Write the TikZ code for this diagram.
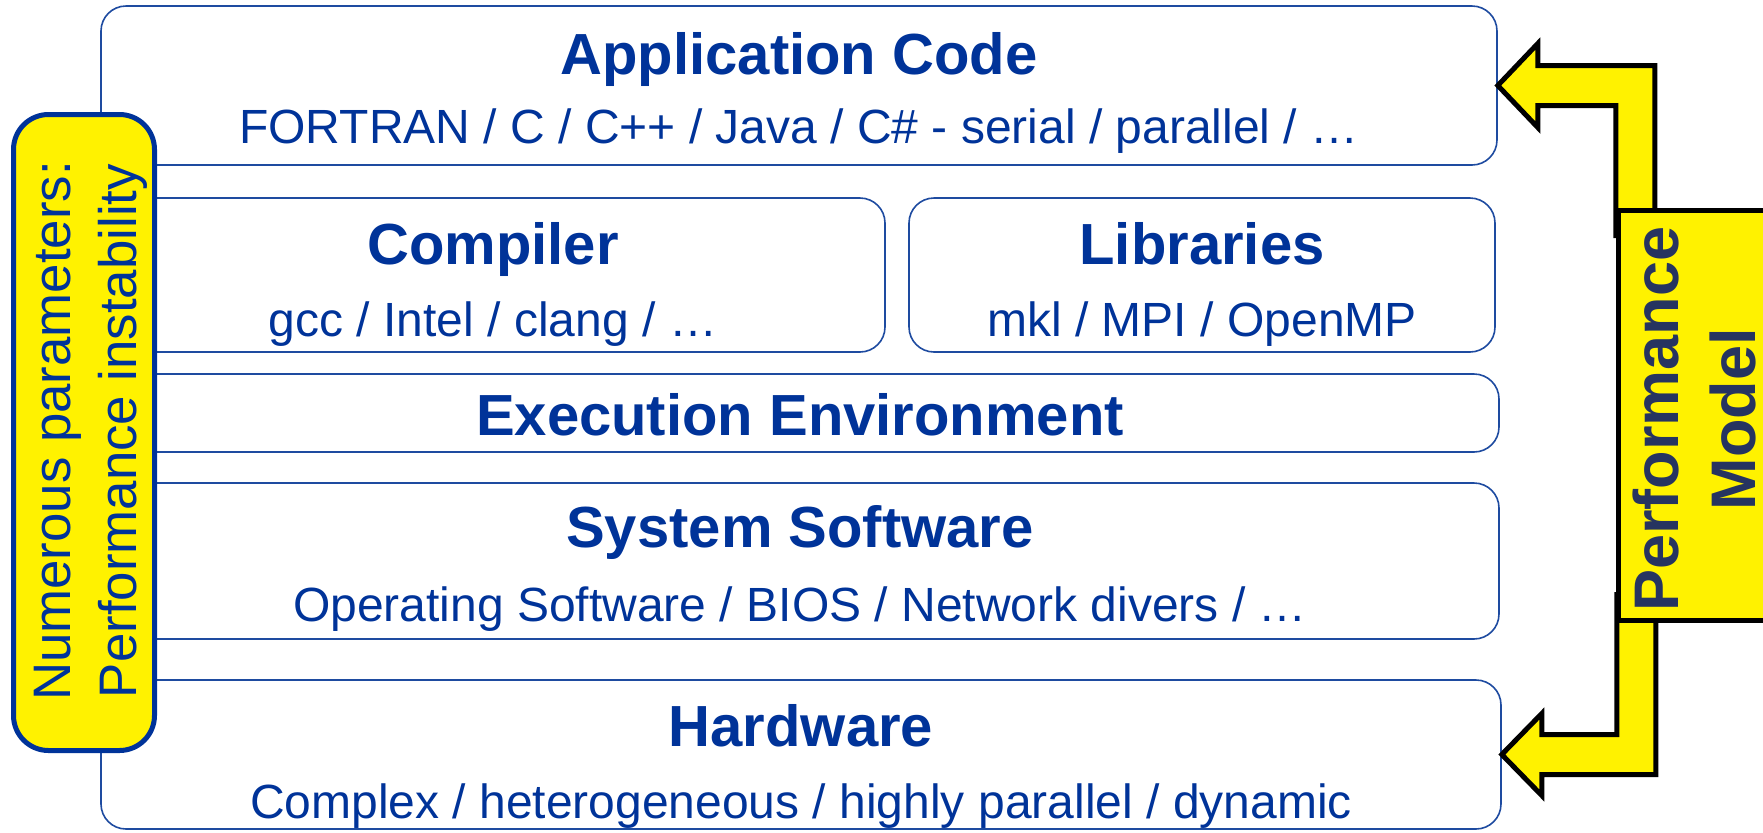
\documentclass[tikz,border=0pt]{standalone}
\usepackage{fontspec}
\setmainfont{Liberation Sans}
\definecolor{tblue}{RGB}{0,51,153}
\definecolor{lblue}{RGB}{30,75,160}
\definecolor{navy}{RGB}{38,52,96}
\begin{document}
\begin{tikzpicture}[x=0.5pt,y=-0.5pt,
  layer/.style={draw=lblue, line width=0.8pt, rounded corners=12.5pt, inner sep=0pt},
  title/.style={text=tblue, font=\fontsize{29}{34}\selectfont\bfseries, anchor=base, inner sep=0pt},
  sub/.style={text=tblue, font=\fontsize{24}{29}\selectfont, anchor=base, inner sep=0pt},
  blockarrow/.style={fill=yellow, draw=black, line width=2.5pt, line join=miter, miter limit=10},
  yelbox/.style={fill=yellow, line width=2.5pt, inner sep=0pt}]
\useasboundingbox (0,0) rectangle (1763,832);
\clip (0,0) rectangle (1763,832);
% layers
\node[layer, minimum width=698pt, minimum height=79.5pt] (app) at (799,85.5) {};
\node[title] (apptitle) at (799,74) {Application Code};
\node[sub] (appsub) at (799,143) {FORTRAN / C / C++ / Java / C\# - serial / parallel / …};
\node[layer, minimum width=392pt, minimum height=77pt] (comp) at (493,275) {};
\node[title] (comptitle) at (493,264) {Compiler};
\node[sub] (compsub) at (493,336) {gcc / Intel / clang / …};
\node[layer, minimum width=293pt, minimum height=77pt] (libs) at (1202,275) {};
\node[title] (libstitle) at (1202,264) {Libraries};
\node[sub] (libssub) at (1202,336) {mkl / MPI / OpenMP};
\node[layer, minimum width=699pt, minimum height=39pt] (exec) at (800,413) {};
\node[title] (exectitle) at (800,435) {Execution Environment};
\node[layer, minimum width=699pt, minimum height=78pt] (sys) at (800,561) {};
\node[title] (systitle) at (800,547) {System Software};
\node[sub] (syssub) at (800,621) {Operating Software / BIOS / Network divers / …};
\node[layer, minimum width=700pt, minimum height=74.5pt] (hw) at (801,754.5) {};
\node[title] (hwtitle) at (801,746) {Hardware};
\node[sub] (hwsub) at (801,818) {Complex / heterogeneous / highly parallel / dynamic};
% left box
\node[yelbox, draw=tblue, rounded corners=17.5pt, minimum width=70.5pt, minimum height=318pt] (params) at (84,432.5) {};
\node[rotate=90, align=center, text=tblue, font=\fontsize{26.4}{33}\selectfont] (paramstext) at (91,431) {Numerous parameters:\\Performance instability};
% arrows
\draw[blockarrow] (app.east) -- ++(40,-42) -- ++(0,22) -- ++(117,0) -- ++(0,170) -- ++(-39,0) -- ++(0,-130) -- ++(-78,0) -- ++(0,22) -- cycle;
\draw[blockarrow] (hw.east) -- ++(40,-41) -- ++(0,21) -- ++(75,0) -- ++(0,-140) -- ++(39,0) -- ++(0,180) -- ++(-114,0) -- ++(0,21) -- cycle;
% performance model
\node[yelbox, draw=black, minimum width=100pt, minimum height=205pt, anchor=west] (perf) at (1615.5,415) {};
\node[rotate=90, align=center, text=navy, font=\fontsize{31.5}{38.5}\selectfont\bfseries] (perftext) at (1694,419) {Performance\\Model};
\end{tikzpicture}
\end{document}
